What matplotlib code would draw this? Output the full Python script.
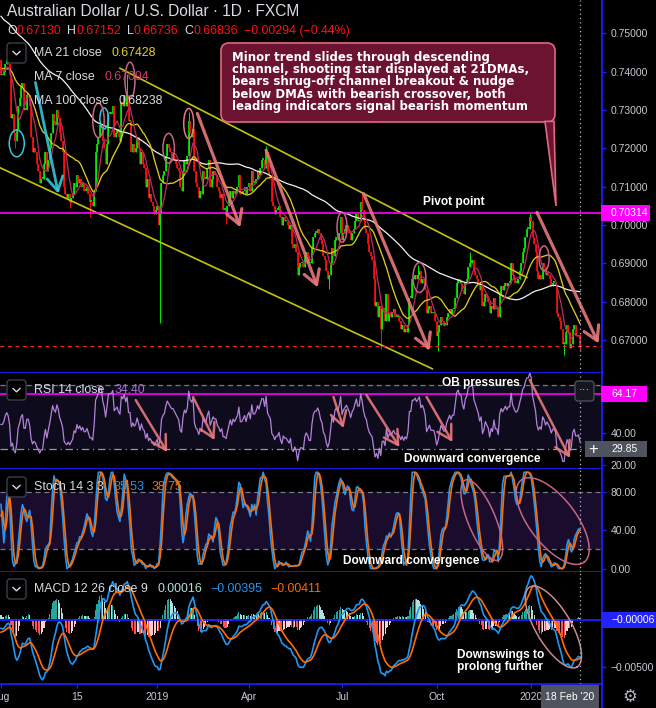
import numpy as np
import pandas as pd
import matplotlib

matplotlib.use("Agg")
import matplotlib.pyplot as plt
import matplotlib.transforms as mtransforms
from matplotlib.lines import Line2D
from matplotlib.patches import Ellipse, FancyBboxPatch, Polygon, Rectangle

# daily AUD/USD closes (FXCM), one list per month
# Mar-Jul 2018 are off-screen, they only warm up the MAs and oscillators
mar18 = [0.7760, 0.7770, 0.7790, 0.7780, 0.7770, 0.7790, 0.7830, 0.7870, 0.7890, 0.7860, 0.7860,
         0.7860, 0.7700, 0.7690, 0.7730, 0.7710, 0.7720, 0.7730, 0.7710, 0.7680, 0.7680, 0.7680]
apr18 = [0.7650, 0.7690, 0.7690, 0.7700, 0.7620, 0.7680, 0.7720, 0.7760, 0.7750, 0.7760, 0.7760,
         0.7770, 0.7780, 0.7740, 0.7680, 0.7630, 0.7570, 0.7580, 0.7550, 0.7570, 0.7530]
may18 = [0.7490, 0.7510, 0.7530, 0.7500, 0.7470, 0.7450, 0.7430, 0.7500, 0.7530, 0.7520, 0.7510,
         0.7490, 0.7510, 0.7520, 0.7580, 0.7560, 0.7570, 0.7550, 0.7540, 0.7560, 0.7540, 0.7520, 0.7560]
jun18 = [0.7570, 0.7600, 0.7610, 0.7660, 0.7640, 0.7600, 0.7600, 0.7580, 0.7620, 0.7520, 0.7440,
         0.7430, 0.7400, 0.7420, 0.7360, 0.7380, 0.7370, 0.7380, 0.7380, 0.7360, 0.7400]
jul18 = [0.7330, 0.7360, 0.7380, 0.7410, 0.7430, 0.7440, 0.7420, 0.7400, 0.7380, 0.7400, 0.7430,
         0.7400, 0.7380, 0.7410, 0.7410, 0.7420, 0.7420, 0.7430, 0.7380, 0.7390, 0.7420, 0.7430]

aug18 = [0.7390, 0.7390, 0.7400, 0.7420, 0.7430, 0.7420, 0.7390, 0.7280, 0.7290, 0.7240, 0.7220,
         0.7250, 0.7310, 0.7330, 0.7360, 0.7370, 0.7300, 0.7300, 0.7340, 0.7340, 0.7310, 0.7230, 0.7190]
sep18 = [0.7200, 0.7190, 0.7160, 0.7140, 0.7110, 0.7120, 0.7120, 0.7160, 0.7190, 0.7140, 0.7170,
         0.7200, 0.7240, 0.7290, 0.7270, 0.7260, 0.7300, 0.7280, 0.7240, 0.7220]
oct18 = [0.7190, 0.7100, 0.7080, 0.7070, 0.7080, 0.7060, 0.7070, 0.7080, 0.7110, 0.7100, 0.7130,
         0.7110, 0.7120, 0.7100, 0.7110, 0.7090, 0.7090, 0.7100, 0.7080, 0.7060, 0.7060, 0.7050, 0.7090]
nov18 = [0.7190, 0.7210, 0.7230, 0.7260, 0.7260, 0.7220, 0.7200, 0.7160, 0.7210, 0.7290, 0.7290,
         0.7290, 0.7310, 0.7230, 0.7240, 0.7250, 0.7230, 0.7220, 0.7320, 0.7310, 0.7340, 0.7310]
dec18 = [0.7340, 0.7270, 0.7270, 0.7190, 0.7210, 0.7190, 0.7200, 0.7230, 0.7200, 0.7160, 0.7190,
         0.7160, 0.7150, 0.7100, 0.7120, 0.7070, 0.7080, 0.7060, 0.7050, 0.7030, 0.7040]
jan19 = [0.7050, 0.7000, 0.7030, 0.7110, 0.7130, 0.7140, 0.7180, 0.7210, 0.7200, 0.7190, 0.7180,
         0.7180, 0.7170, 0.7160, 0.7150, 0.7140, 0.7100, 0.7090, 0.7140, 0.7170, 0.7160, 0.7180, 0.7270]
feb19 = [0.7240, 0.7230, 0.7250, 0.7140, 0.7110, 0.7100, 0.7070, 0.7090, 0.7080, 0.7140, 0.7120,
         0.7120, 0.7150, 0.7170, 0.7100, 0.7120, 0.7140, 0.7130, 0.7130, 0.7100]
mar19 = [0.7090, 0.7070, 0.7080, 0.7040, 0.7040, 0.7030, 0.7050, 0.7070, 0.7090, 0.7070, 0.7090,
         0.7080, 0.7090, 0.7100, 0.7130, 0.7080, 0.7080, 0.7090, 0.7100, 0.7080, 0.7100]
apr19 = [0.7110, 0.7090, 0.7140, 0.7110, 0.7110, 0.7120, 0.7140, 0.7130, 0.7150, 0.7170, 0.7170,
         0.7150, 0.7190, 0.7140, 0.7130, 0.7120, 0.7060, 0.7050, 0.7030, 0.7040, 0.7040, 0.7050]
may19 = [0.7020, 0.7000, 0.7020, 0.7010, 0.7010, 0.7000, 0.6990, 0.7000, 0.6950, 0.6940, 0.6950,
         0.6930, 0.6870, 0.6890, 0.6900, 0.6900, 0.6890, 0.6920, 0.6930, 0.6920, 0.6900, 0.6900, 0.6940]
jun19 = [0.6970, 0.6980, 0.6980, 0.6990, 0.6980, 0.6960, 0.6950, 0.6920, 0.6910, 0.6880, 0.6860,
         0.6870, 0.6900, 0.6940, 0.6920, 0.6960, 0.6970, 0.6960, 0.6980, 0.7020]
jul19 = [0.6960, 0.6980, 0.6990, 0.7000, 0.6990, 0.6980, 0.6960, 0.6980, 0.6990, 0.7010, 0.7030,
         0.7010, 0.7010, 0.7060, 0.7040, 0.7010, 0.6990, 0.6980, 0.6950, 0.6930, 0.6920, 0.6910, 0.6860]
aug19 = [0.6790, 0.6800, 0.6760, 0.6790, 0.6730, 0.6780, 0.6780, 0.6750, 0.6820, 0.6750, 0.6770,
         0.6760, 0.6770, 0.6780, 0.6760, 0.6760, 0.6760, 0.6750, 0.6730, 0.6740, 0.6720, 0.6730]
sep19 = [0.6720, 0.6740, 0.6810, 0.6810, 0.6860, 0.6860, 0.6870, 0.6860, 0.6870, 0.6880, 0.6850,
         0.6860, 0.6850, 0.6830, 0.6770, 0.6780, 0.6790, 0.6770, 0.6770, 0.6770, 0.6750]
oct19 = [0.6710, 0.6720, 0.6740, 0.6760, 0.6750, 0.6740, 0.6740, 0.6760, 0.6770, 0.6780, 0.6770,
         0.6780, 0.6780, 0.6810, 0.6850, 0.6860, 0.6850, 0.6850, 0.6830, 0.6820, 0.6850, 0.6860, 0.6890]
nov19 = [0.6900, 0.6900, 0.6910, 0.6880, 0.6870, 0.6860, 0.6850, 0.6830, 0.6840, 0.6790, 0.6800,
         0.6820, 0.6810, 0.6800, 0.6770, 0.6790, 0.6780, 0.6810, 0.6780, 0.6780, 0.6760]
dec19 = [0.6820, 0.6840, 0.6830, 0.6840, 0.6850, 0.6840, 0.6850, 0.6850, 0.6900, 0.6870, 0.6860,
         0.6850, 0.6850, 0.6860, 0.6880, 0.6900, 0.6930, 0.6940, 0.6970, 0.6990, 0.6990, 0.7020]
jan20 = [0.7010, 0.6970, 0.6950, 0.6930, 0.6880, 0.6860, 0.6870, 0.6860, 0.6900, 0.6890, 0.6870,
         0.6880, 0.6870, 0.6860, 0.6840, 0.6850, 0.6850, 0.6840, 0.6770, 0.6760, 0.6750, 0.6730, 0.6690]
feb20 = [0.6690, 0.6720, 0.6740, 0.6720, 0.6680, 0.6690, 0.6730, 0.6740, 0.6710, 0.6710, 0.6713, 0.66836]

history = [mar18, apr18, may18, jun18, jul18]
visible = [aug18, sep18, oct18, nov18, dec18, jan19, feb19, mar19, apr19, may19, jun19, jul19,
           aug19, sep19, oct19, nov19, dec19, jan20, feb20]

# the wicks that stand out on the chart
wick_highs = {"2018-12-03": 0.7394, "2019-01-31": 0.7296, "2019-04-17": 0.7206,
              "2019-07-19": 0.7082, "2019-09-12": 0.6895, "2019-11-01": 0.6930,
              "2019-12-31": 0.7031, "2020-02-18": 0.67152}
wick_lows = {"2018-08-15": 0.7202, "2018-10-08": 0.7045, "2018-10-26": 0.7020,
             "2019-01-03": 0.6745, "2019-03-08": 0.7003, "2019-06-18": 0.6832,
             "2019-08-07": 0.6677, "2019-10-02": 0.6671, "2020-02-03": 0.6662,
             "2020-02-18": 0.66736}

START = "2018-08-01"
pivot_level = 0.70314
rsi_level = 64.17
cursor_rsi = 29.85
macd_level = -0.00006

tick_dates = ["2018-08-01", "2018-10-15", "2019-01-01", "2019-04-01", "2019-07-01", "2019-10-01", "2020-01-01"]
tick_labels = ["Aug", "15", "2019", "Apr", "Jul", "Oct", "2020"]

plt.rcParams["font.family"] = ["Liberation Sans", "DejaVu Sans"]

W, H = 656, 708
X0, X1 = -0.7, 419.4
SEP = "#1c1cff"
AXT = "#c6cad2"
WHITE = "#d8dbe2"
GREEN, RED = "#00ee00", "#ff1010"
BLUE, ORANGE = "#2196f3", "#ff6d00"
SALMON = "#e8787c"
PINK = "#c46684"
CYAN = "#33c6dc"


def bar(d):
    return int(np.busday_count(START, d))


# ---- series ----
pre = np.concatenate(history)
off = len(pre)
close = np.concatenate([pre, np.concatenate(visible)])
open_ = np.r_[close[0], close[:-1]]
high = np.maximum(open_, close)
low = np.minimum(open_, close)
for d, v in wick_highs.items():
    high[off + bar(d)] = max(high[off + bar(d)], v)
for d, v in wick_lows.items():
    low[off + bar(d)] = min(low[off + bar(d)], v)

c = pd.Series(close)
ma7 = c.rolling(7).mean().to_numpy()
ma21 = c.rolling(21).mean().to_numpy()
ma100 = c.rolling(100).mean().to_numpy()

delta = c.diff()
gain = delta.clip(lower=0).ewm(alpha=1 / 14, adjust=False).mean()
loss = (-delta.clip(upper=0)).ewm(alpha=1 / 14, adjust=False).mean()
rsi = (100 - 100 / (1 + gain / loss)).to_numpy()

hh = pd.Series(high).rolling(14).max()
ll = pd.Series(low).rolling(14).min()
stoch_k = (100 * (c - ll) / (hh - ll)).rolling(3).mean()
stoch_d = stoch_k.rolling(3).mean()
stoch_k, stoch_d = stoch_k.to_numpy(), stoch_d.to_numpy()

macd = c.ewm(span=12, adjust=False).mean() - c.ewm(span=26, adjust=False).mean()
signal = macd.ewm(span=9, adjust=False).mean()
hist = (macd - signal).to_numpy()
macd, signal = macd.to_numpy(), signal.to_numpy()

sl = slice(off, None)
xv = np.arange(len(close) - off)

# ---- figure ----
fig = plt.figure(figsize=(W / 100, H / 100), dpi=100, facecolor="black")
PX = mtransforms.Affine2D().scale(1 / W, -1 / H).translate(0, 1) + fig.transFigure


def panel(y0, y1, ylim, ticks, labels):
    ax = fig.add_axes([0, 1 - y1 / H, 602 / W, (y1 - y0) / H])
    ax.set_facecolor("black")
    ax.set_xlim(X0, X1)
    ax.set_ylim(*ylim)
    for s in ("top", "left"):
        ax.spines[s].set_visible(False)
    for s in ("right", "bottom"):
        ax.spines[s].set_color(SEP)
        ax.spines[s].set_linewidth(1.3)
    ax.yaxis.tick_right()
    ax.set_yticks(ticks)
    ax.set_yticklabels(labels)
    ax.tick_params(axis="y", length=3, width=1, color=SEP, labelcolor=AXT, labelsize=7.5, pad=3)
    ax.set_xticks([])
    ax.axvline(xv[-1], color="#b8bcc6", lw=0.9, ls=(0, (1, 2.5)), zorder=6)
    return ax


price_ticks = [0.67, 0.68, 0.69, 0.70, 0.71, 0.72, 0.73, 0.74, 0.75]
ax_p = panel(0, 373, (0.66140, 0.75869), price_ticks, [f"{v:.5f}" for v in price_ticks])
# the 60 level label sits under the 64.17 tag, as on the chart
ax_r = panel(373, 469, (17.5, 77.5), [20, 40, 60], ["20.00", "40.00", ""])
ax_s = panel(469, 572, (-3.6, 103.4), [0, 40, 80], ["0.00", "40.00", "80.00"])
ax_m = panel(572, 684, (-0.00679, 0.00498), [-0.005], ["\u22120.00500"])

ax_m.set_xticks([bar(d) for d in tick_dates])
ax_m.set_xticklabels(tick_labels)
ax_m.tick_params(axis="x", length=3, width=1, color=SEP, labelcolor=AXT, labelsize=7.5, pad=3)


def arrow(ax, d0, v0, d1, v1, color=SALMON, lw=2.3):
    ax.annotate("", xy=(bar(d1), v1), xytext=(bar(d0), v0),
                arrowprops=dict(arrowstyle="->,head_length=0.55,head_width=0.32", color=color,
                                lw=lw, alpha=0.9, shrinkA=0, shrinkB=0, mutation_scale=18),
                annotation_clip=False, zorder=5)


def tilted_ellipse(ax, p0, p1, ratio, color=PINK):
    a = ax.transData.transform((bar(p0[0]), p0[1]))
    b = ax.transData.transform((bar(p1[0]), p1[1]))
    mid, u = (a + b) / 2, (b - a) / 2
    v = np.array([-u[1], u[0]]) * ratio
    t = np.linspace(0, 2 * np.pi, 200)
    pts = mid + np.outer(np.cos(t), u) + np.outer(np.sin(t), v)
    pts = ax.transData.inverted().transform(pts)
    ax.plot(pts[:, 0], pts[:, 1], color=color, lw=1.1, zorder=5)


def label(ax, d, v, s, ha="center"):
    ax.text(bar(d), v, s, color="white", fontsize=8.6, fontweight="bold", ha=ha, va="center", zorder=7)


# ---- price ----
ov, cv, hv, lv = open_[sl], close[sl], high[sl], low[sl]
cols = np.where(cv >= ov, GREEN, RED)
ax_p.vlines(xv, lv, hv, colors=cols, lw=0.7)
ax_p.vlines(xv, np.minimum(ov, cv), np.maximum(np.maximum(ov, cv), np.minimum(ov, cv) + 0.0004),
            colors=cols, lw=1.2)
ax_p.plot(xv, ma100[sl], color="#f2f2f2", lw=0.9)
ax_p.plot(xv, ma21[sl], color="#dccb1c", lw=0.95)
ax_p.plot(xv, ma7[sl], color="#b8295e", lw=0.95)

ax_p.plot([bar("2018-11-26"), bar("2019-12-27")], [0.7409, 0.6863], color="#c4c410", lw=1.2)
ax_p.plot([bar("2018-07-31"), bar("2019-09-26")], [0.7150, 0.6625], color="#c4c410", lw=1.2)
ax_p.axhline(pivot_level, color="#ff00ff", lw=1.2)
ax_p.axhline(cv[-1], color="#ff2020", lw=0.9, ls=(0, (3, 3)))

arrow(ax_p, "2018-09-04", 0.7372, "2018-09-26", 0.7082, color=CYAN, lw=2.0)
arrow(ax_p, "2019-02-08", 0.7291, "2019-03-22", 0.6994)
arrow(ax_p, "2019-04-17", 0.7195, "2019-06-06", 0.6837)
arrow(ax_p, "2019-07-22", 0.7082, "2019-09-24", 0.6672)
arrow(ax_p, "2020-01-07", 0.7033, "2020-03-06", 0.6691)

for d, v, w, h, col in [("2018-08-16", 0.7213, 10.5, 0.0070, CYAN),
                        ("2018-11-09", 0.7278, 6, 0.0055, CYAN),
                        ("2018-11-05", 0.7273, 8, 0.0090, PINK),
                        ("2018-12-05", 0.7377, 7, 0.0095, PINK),
                        ("2019-01-11", 0.7200, 8, 0.0078, PINK),
                        ("2019-01-31", 0.7265, 7, 0.0078, SALMON),
                        ("2019-07-01", 0.6994, 7, 0.0078, PINK),
                        ("2019-09-13", 0.6863, 9, 0.0078, PINK),
                        ("2020-01-14", 0.6913, 7, 0.0065, PINK)]:
    ax_p.add_patch(Ellipse((bar(d), v), w, h, fill=False, ec=col, lw=1.1, zorder=5))

label(ax_p, "2019-10-17", 0.7061, "Pivot point")

# ---- RSI ----
ax_r.axhspan(30, 70, color="#0e0b1d", lw=0)
ax_r.axhline(70, color="#787b86", lw=0.9, ls=(0, (4, 3)))
ax_r.axhline(cursor_rsi, color="#9598a1", lw=0.9, ls=(0, (6, 3, 1, 3)))
ax_r.axhline(rsi_level, color="#ff00ff", lw=1.2)
ax_r.plot(xv, rsi[sl], color="#b283d8", lw=0.9)
for d0, v0, d1, v1 in [("2018-12-11", 60.6, "2019-01-10", 28.1),
                       ("2019-02-05", 62.5, "2019-02-26", 35.6),
                       ("2019-06-21", 62.5, "2019-07-02", 43.1),
                       ("2019-07-24", 63.75, "2019-08-26", 31.25),
                       ("2019-09-20", 62.5, "2019-10-16", 34.4),
                       ("2019-12-31", 73.1, "2020-02-07", 24.4)]:
    arrow(ax_r, d0, v0, d1, v1, lw=1.8)
label(ax_r, "2019-11-13", 71.25, "OB pressures")
label(ax_r, "2019-11-05", 23.75, "Downward convergence")

# ---- Stoch ----
ax_s.axhspan(20, 80, color="#190c2d", lw=0)
for lvl in (20, 80):
    ax_s.axhline(lvl, color="#787b86", lw=0.9, ls=(0, (4, 3)))
ax_s.plot(xv, stoch_k[sl], color=BLUE, lw=1.2)
ax_s.plot(xv, stoch_d[sl], color=ORANGE, lw=1.2)
tilted_ellipse(ax_s, ("2019-10-29", 91.9), ("2019-11-29", 8.8), 0.32)
tilted_ellipse(ax_s, ("2019-12-23", 91.9), ("2020-02-21", 6.75), 0.45)
label(ax_s, "2019-09-05", 7.7, "Downward convergence")

# ---- MACD ----
hs = hist[sl]
prev = hist[off - 1:-1]
hcols = np.where(hs >= 0, np.where(hs >= prev, "#26a69a", "#b2dfdb"),
                 np.where(hs < prev, "#ff5252", "#ffcdd2"))
ax_m.bar(xv, hs, width=0.75, color=hcols, lw=0)
ax_m.axhline(macd_level, color=SEP, lw=1.3)
ax_m.plot(xv, macd[sl], color=BLUE, lw=1.2)
ax_m.plot(xv, signal[sl], color=ORANGE, lw=1.2)
tilted_ellipse(ax_m, ("2019-12-31", 0.0034), ("2020-02-14", -0.0050), 0.38, color="#c98a8a")
label(ax_m, "2019-10-21", -0.00374, "Downswings to", ha="left")
label(ax_m, "2019-10-21", -0.00500, "prolong further", ha="left")

# ---- header, legends, tags ----
renderer = fig.canvas.get_renderer()


def chain(x, y, parts, size=8.9):
    for s, col, gap in parts:
        t = fig.text(x, y, s, transform=PX, color=col, fontsize=size, va="center", ha="left")
        x += t.get_window_extent(renderer=renderer).width + gap


def chevron_box(y):
    fig.add_artist(FancyBboxPatch((7, y - 10), 19, 20, boxstyle="round,pad=0,rounding_size=3",
                                  transform=PX, fc="black", ec="#3a3e4a", lw=1))
    fig.add_artist(Line2D([13, 16.5, 20], [y - 1.5, y + 1.8, y - 1.5], transform=PX,
                          color=WHITE, lw=1))


def tag(ax, value, text, fc, x0=601, x1=647, h=16):
    y = H - ax.transData.transform((0, value))[1]
    fig.add_artist(Rectangle((x0, y - h / 2), x1 - x0, h, transform=PX, fc=fc, ec="none", zorder=5))
    fig.text(611, y, text, transform=PX, color="white", fontsize=7.5, va="center", ha="left", zorder=6)
    return y


fig.text(7, 11, "Australian Dollar / U.S. Dollar \u00b7 1D \u00b7 FXCM", transform=PX,
         color=WHITE, fontsize=11.2, va="center")
chain(7, 31, [("O", WHITE, 0), ("0.67130", RED, 6), ("H", WHITE, 0), ("0.67152", RED, 6),
              ("L", WHITE, 0), ("0.66736", RED, 6), ("C", WHITE, 0), ("0.66836", RED, 6),
              ("\u22120.00294 (\u22120.44%)", RED, 0)])

chevron_box(53)
chain(34, 53, [("MA 21 close", WHITE, 10), ("0.67428", "#e2d21e", 0)])
chain(34, 77, [("MA 7 close", WHITE, 10), ("0.67094", "#d0396f", 0)])
chain(34, 101, [("MA 100 close", WHITE, 10), ("0.68238", WHITE, 0)])
chevron_box(390)
chain(34, 390, [("RSI 14 close", WHITE, 10), ("34.40", "#a36fc8", 0)])
chevron_box(487)
chain(34, 487, [("Stoch 14 3 3", WHITE, 10), ("35.53", BLUE, 7), ("38.75", ORANGE, 0)])
chevron_box(589)
chain(34, 589, [("MACD 12 26 close 9", WHITE, 10), ("0.00016", "#b2dfdb", 8),
                ("\u22120.00395", BLUE, 8), ("\u22120.00411", ORANGE, 0)])

tag(ax_p, pivot_level, "0.70314", "#ff00ff", x1=650)
tag(ax_r, rsi_level, "64.17", "#ff00ff")
yc = tag(ax_r, cursor_rsi, "29.85", "#4f535e", x0=585)
fig.text(593, yc, "+", transform=PX, color="white", fontsize=12, va="center", ha="center", zorder=7)
tag(ax_m, macd_level, "\u22120.00006", "#2323ff", x1=656)

fig.add_artist(FancyBboxPatch((575, 381), 19, 20, boxstyle="round,pad=0,rounding_size=3",
                              transform=PX, fc="#15171f", ec="#4a4e5a", lw=1, zorder=5))
fig.text(584.5, 390, "\u00b7\u00b7\u00b7", transform=PX, color="white", fontsize=8,
         va="center", ha="center", zorder=6)

# callout box
fig.add_artist(FancyBboxPatch((221, 43), 334, 79, boxstyle="round,pad=0,rounding_size=8",
                              transform=PX, fc="#6c1331", ec="#e0687f", lw=1.2, zorder=8))
fig.add_artist(Polygon([(545, 121.4), (554, 121.4), (556, 206)], closed=True, transform=PX,
                       fc="#6c1331", ec="#e0687f", lw=1.2, zorder=8))
callout = ["Minor trend slides through descending",
           "channel, shooting star displayed at 21DMAs,",
           "bears shrug-off channel breakout & nudge",
           "below DMAs with bearish crossover, both",
           "leading indicators signal bearish momentum"]
for i, line in enumerate(callout):
    fig.text(232, 57.5 + 12.2 * i, line, transform=PX, color="white", fontsize=8.5,
             fontweight="bold", family="DejaVu Sans", va="center", ha="left", zorder=9)

# time axis extras
fig.add_artist(Line2D([602, 602], [684, 708], transform=PX, color=SEP, lw=1.3))
fig.add_artist(Rectangle((541, 685), 58, 23, transform=PX, fc="#4f535e", ec="none", zorder=5))
fig.text(570, 697, "18 Feb '20", transform=PX, color="white", fontsize=7.5,
         va="center", ha="center", zorder=6)
fig.text(630, 697, "\u2699", transform=PX, color="#b2b5be", fontsize=12, family="DejaVu Sans",
         va="center", ha="center")

fig.savefig("out.png", dpi=100, facecolor="black")
